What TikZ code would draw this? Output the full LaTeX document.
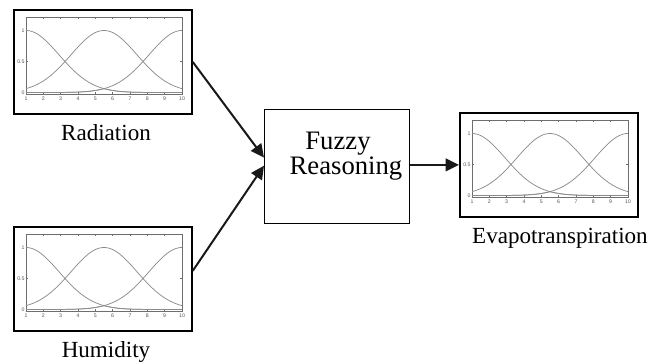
\documentclass[tikz,border=0pt]{standalone}
\usepackage{fontspec}
\setmainfont{Liberation Serif}
\newfontfamily\axisfont{Liberation Sans}
\usetikzlibrary{arrows.meta}

\definecolor{curvegray}{HTML}{8A8A8A}
\definecolor{axisgray}{HTML}{6E6E6E}
\definecolor{ticktext}{HTML}{555555}

\tikzset{
  mfframe/.style={draw=black, line width=1.3pt, minimum width=133.5pt,
    minimum height=78pt, inner sep=0pt, anchor=north west},
  fzbox/.style={draw=black, line width=1pt, minimum width=108.75pt,
    minimum height=85.5pt, inner sep=0pt, anchor=north west},
  lab/.style={font=\fontsize{17.3}{20}\selectfont, inner sep=0pt, anchor=base},
  fztext/.style={font=\fontsize{20}{17}\selectfont, align=center, inner sep=0pt},
  link/.style={line width=1.5pt, draw=black!90, -{Triangle[length=10pt,width=9.5pt]}},
  axisline/.style={draw=axisgray, line width=0.35pt},
  curve/.style={draw=curvegray, line width=0.55pt},
  ticklab/.style={font=\axisfont\fontsize{3.9}{4}\selectfont, text=ticktext, inner sep=0pt},
  % membership-function plot, drawn from the frame's top-left corner
  % (data x runs 1..10, data y 0..1)
  pics/mfplot/.style={code={
    \begin{scope}[shift={(-4.33,83.5)}, x=13pt, y=46.5pt]
      \draw[axisline] (1,-0.024) rectangle (10,1.218);
      \foreach \i in {1,...,10} {
        \draw[axisline] (\i,-0.024) -- ++(0,0.035);
        \draw[axisline] (\i,1.218) -- ++(0,-0.035);
        \node[ticklab, anchor=north] at (\i,-0.065) {\i};
      }
      \foreach \v/\t in {0/0, 0.5/0.5, 1/1} {
        \draw[axisline] (1,\v) -- ++(0.12,0);
        \draw[axisline] (10,\v) -- ++(-0.12,0);
        \node[ticklab, anchor=east] at (0.93,\v) {\t};
      }
      \draw[curve] plot[domain=1:10, samples=90, smooth] (\x,{exp(-(\x-1)^2/7.3)});
      \draw[curve] plot[domain=1:10, samples=90, smooth] (\x,{exp(-(\x-5.5)^2/7.3)});
      \draw[curve] plot[domain=1:10, samples=90, smooth] (\x,{exp(-(\x-10)^2/7.3)});
      \draw[curve] plot[domain=1:5.5, samples=45, smooth] (\x,{exp(-(\x-10)^2/7.3)})
        -- plot[domain=5.5:10, samples=45, smooth] (\x,{exp(-(\x-1)^2/7.3)});
    \end{scope}
  }}
}

\begin{document}
\begin{tikzpicture}[x=0.75pt, y=-0.75pt]
  \useasboundingbox (0,0) rectangle (662,362);

  % input and output plots
  \node[mfframe] (rad) at (13,9) {};
  \pic at (rad.north west) {mfplot};
  \node[mfframe] (hum) at (13,226) {};
  \pic at (hum.north west) {mfplot};
  \node[mfframe] (eva) at (459,112) {};
  \pic at (eva.north west) {mfplot};

  % labels
  \node[lab] (radl) at (106,140) {Radiation};
  \node[lab] (huml) at (106,357) {Humidity};
  \node[lab] (eval) at (560,243) {Evapotranspiration};

  % reasoning block
  \node[fzbox] (fz) at (264,109) {};
  \node[fztext] (fzt) at (346,156) {Fuzzy\hspace*{12pt}\\Reasoning};

  % connectors
  \draw[link] (rad.east) -- ([yshift=6.75pt]fz.west);
  \draw[link] ([yshift=6pt]hum.east) -- ([yshift=0.75pt]fz.west);
  \draw[link] (fz.east |- eva.west) -- (eva.west);
\end{tikzpicture}
\end{document}
